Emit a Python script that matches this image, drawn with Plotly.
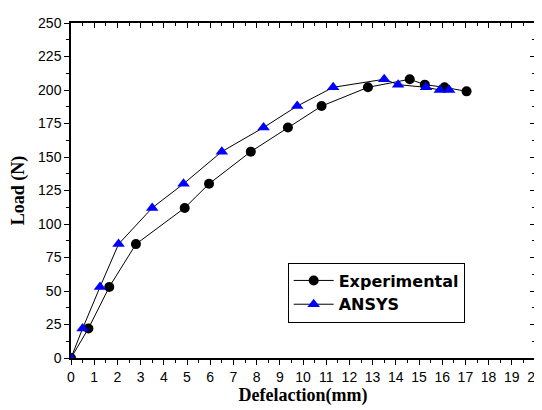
import plotly.graph_objects as go

exp_x = [0, 0.75, 1.65, 2.8, 4.9, 5.95, 7.75, 9.35, 10.8, 12.8, 14.6, 15.25, 16.1, 17.05]
exp_y = [0, 22, 53, 85, 112, 130, 154, 172, 188, 202, 208, 204, 202, 199]
ans_x = [0, 0.5, 1.25, 2.05, 3.5, 4.85, 6.5, 8.3, 9.75, 11.3, 13.5, 14.1, 15.3, 15.9, 16.3]
ans_y = [0, 22, 53, 85, 112, 130, 154, 172, 188, 202, 208, 204, 202, 200, 200]

x_ticks = list(range(0, 21))
y_ticks = list(range(0, 251, 25))

fig = go.Figure()
fig.add_trace(go.Scatter(x=exp_x, y=exp_y, mode="lines+markers", name="Experimental",
                         line=dict(color="black", width=1),
                         marker=dict(symbol="circle", size=10, color="black")))
fig.add_trace(go.Scatter(x=ans_x, y=ans_y, mode="lines+markers", name="ANSYS",
                         line=dict(color="black", width=1),
                         marker=dict(symbol="triangle-up", size=11, color="#0000FF")))
# invisible trace to anchor top/right axes
fig.add_trace(go.Scatter(x=[0], y=[0], xaxis="x2", yaxis="y2", mode="markers",
                         marker=dict(opacity=0), showlegend=False, hoverinfo="skip"))

tickfont = dict(family="Liberation Sans, Arial", size=14, color="black")
titlefont = dict(family="Liberation Serif, Times New Roman", size=18, color="black")

fig.update_layout(
    width=534, height=402,
    margin=dict(l=63, r=7, t=15, b=52, autoexpand=False),
    paper_bgcolor="white", plot_bgcolor="white",
    showlegend=True,
    legend=dict(x=0.467, y=0.285, xanchor="left", yanchor="top",
                bordercolor="black", borderwidth=1, bgcolor="white",
                font=dict(family="DejaVu Sans", size=16, color="black", weight="bold"),
                tracegroupgap=0, itemwidth=40),
    xaxis=dict(range=[0, 20], tickmode="array", tickvals=x_ticks, ticktext=[str(v) for v in x_ticks],
               ticks="outside", ticklen=5, tickwidth=1, tickcolor="black",
               minor=dict(ticks="outside", ticklen=3, dtick=0.5, tickcolor="black"),
               showline=True, linecolor="black", linewidth=1.5, showgrid=False, zeroline=False,
               tickfont=tickfont, automargin=False, ticklabeloverflow="allow",
               title=dict(text="<b>Defelaction(mm)</b>", font=titlefont, standoff=3)),
    yaxis=dict(range=[0, 250], tickmode="array", tickvals=y_ticks, ticktext=[str(v) for v in y_ticks],
               ticks="outside", ticklen=5, tickwidth=1, tickcolor="black",
               minor=dict(ticks="outside", ticklen=3, dtick=12.5, tickcolor="black"),
               showline=True, linecolor="black", linewidth=1.5, showgrid=False, zeroline=False,
               tickfont=tickfont, automargin=False, ticklabeloverflow="allow",
               title=dict(text="<b>Load (N)</b>", font=titlefont, standoff=10)),
    xaxis2=dict(range=[0, 20], overlaying="x", side="top", anchor="y",
                tickmode="array", tickvals=x_ticks, showticklabels=False,
                ticks="inside", ticklen=5, tickcolor="black",
                minor=dict(ticks="inside", ticklen=3, dtick=0.5, tickcolor="black"),
                showline=True, linecolor="black", linewidth=1.5, showgrid=False, zeroline=False),
    yaxis2=dict(range=[0, 250], overlaying="y", side="right", anchor="x",
                tickmode="array", tickvals=y_ticks, showticklabels=False,
                ticks="inside", ticklen=5, tickcolor="black",
                minor=dict(ticks="inside", ticklen=3, dtick=12.5, tickcolor="black"),
                showline=True, linecolor="black", linewidth=1.5, showgrid=False, zeroline=False),
)

fig.write_html("out.html")
